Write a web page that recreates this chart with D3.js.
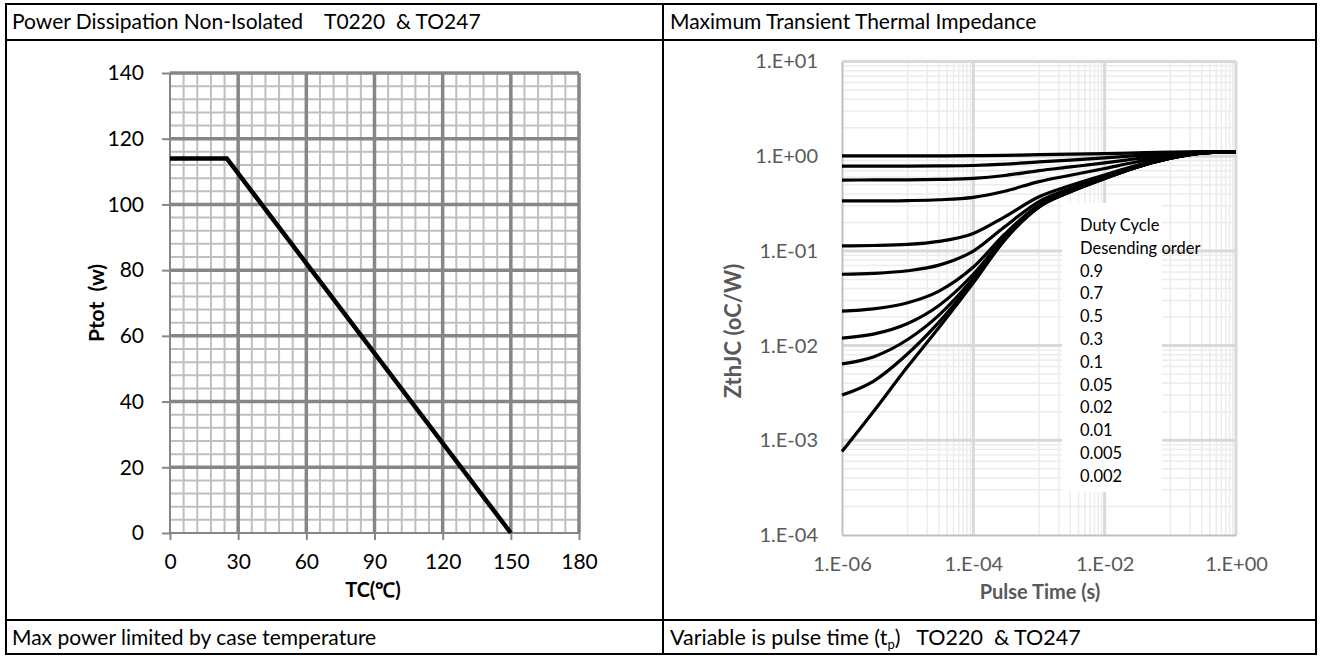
<!DOCTYPE html>
<html>
<head>
<meta charset="utf-8">
<script src="https://cdn.jsdelivr.net/npm/d3@7"></script>
<style>
  body { margin: 0; background: #fff; }
  svg { display: block; font-family: Lato, "Open Sans", sans-serif; }
</style>
</head>
<body>
<svg width="1320" height="656"></svg>
<script>
// ---- data: power derating (left) ----
var tempC = [0, 25, 150];
var powerW = [114, 114, 0];
var tempTicks = [0, 30, 60, 90, 120, 150, 180];
var powerTicks = [0, 20, 40, 60, 80, 100, 120, 140];

// ---- data: transient thermal impedance (right) ----
var pulseTime = [1e-6, 3e-6, 1e-5, 3e-5, 1e-4, 3e-4, 1e-3, 3e-3, 1e-2, 3e-2, 1e-1, 3e-1, 1];
var zthD0_9   = [1.008, 1.008, 1.009, 1.010, 1.013, 1.021, 1.037, 1.050, 1.066, 1.084, 1.103, 1.116, 1.12];
var zthD0_7   = [0.784, 0.785, 0.786, 0.789, 0.798, 0.823, 0.871, 0.910, 0.958, 1.012, 1.069, 1.108, 1.12];
var zthD0_5   = [0.560, 0.561, 0.563, 0.568, 0.583, 0.625, 0.705, 0.770, 0.850, 0.940, 1.035, 1.100, 1.12];
var zthD0_3   = [0.337, 0.337, 0.340, 0.347, 0.368, 0.427, 0.539, 0.630, 0.742, 0.868, 1.001, 1.092, 1.12];
var zthD0_1   = [0.113, 0.114, 0.117, 0.126, 0.153, 0.229, 0.373, 0.490, 0.634, 0.796, 0.967, 1.084, 1.12];
var zthD0_05  = [0.0567, 0.0579, 0.0617, 0.0707, 0.0997, 0.180, 0.332, 0.455, 0.607, 0.778, 0.959, 1.082, 1.12];
var zthD0_02  = [0.0231, 0.0244, 0.0283, 0.0376, 0.0675, 0.150, 0.307, 0.434, 0.591, 0.767, 0.953, 1.081, 1.12];
var zthD0_01  = [0.0120, 0.0132, 0.0171, 0.0265, 0.0567, 0.140, 0.298, 0.427, 0.585, 0.764, 0.952, 1.080, 1.12];
var zthD0_005 = [0.0064, 0.0076, 0.0116, 0.0210, 0.0514, 0.135, 0.294, 0.424, 0.583, 0.762, 0.951, 1.080, 1.12];
var zthD0_002 = [0.0030, 0.0042, 0.0082, 0.0177, 0.0481, 0.132, 0.292, 0.421, 0.581, 0.761, 0.950, 1.080, 1.12];
var zthSingle = [0.00076, 0.0020, 0.0060, 0.0155, 0.046, 0.13, 0.29, 0.42, 0.58, 0.76, 0.95, 1.08, 1.12];
var zthCurves = [zthD0_9, zthD0_7, zthD0_5, zthD0_3, zthD0_1, zthD0_05, zthD0_02, zthD0_01, zthD0_005, zthD0_002, zthSingle];
var legendLines = ["Duty Cycle", "Desending order", "0.9", "0.7", "0.5", "0.3", "0.1", "0.05", "0.02", "0.01", "0.005", "0.002"];
var timeTicks = [1e-6, 1e-4, 1e-2, 1];
var zthTicks = [1e-4, 1e-3, 1e-2, 1e-1, 1, 10];

var svg = d3.select("svg");

// exponent style labels like Excel "1.E-04"
function sciLabel(v) {
  var e = Math.round(Math.log10(v));
  return "1.E" + (e < 0 ? "-" : "+") + String(Math.abs(e)).padStart(2, "0");
}

//////////// TABLE FRAME ////////////
var frame = svg.append("g").attr("stroke", "#000").attr("stroke-width", 2);
frame.append("rect").attr("x", 6).attr("y", 4).attr("width", 1310).attr("height", 650).attr("fill", "none");
frame.append("line").attr("x1", 6).attr("x2", 1316).attr("y1", 40).attr("y2", 40);
frame.append("line").attr("x1", 6).attr("x2", 1316).attr("y1", 620).attr("y2", 620);
frame.append("line").attr("x1", 663).attr("x2", 663).attr("y1", 4).attr("y2", 654);

var cellText = [
  { x: 12, y: 29, t: "Power Dissipation Non-Isolated\u00a0\u00a0\u00a0\u00a0T0220\u00a0\u00a0& TO247" },
  { x: 670, y: 29, t: "Maximum Transient Thermal Impedance" },
  { x: 12, y: 645, t: "Max power limited by case temperature" }
];
svg.selectAll(".cell").data(cellText).enter().append("text")
  .attr("class", "cell")
  .attr("x", function(d) { return d.x; })
  .attr("y", function(d) { return d.y; })
  .attr("font-size", "21px")
  .attr("fill", "#000")
  .text(function(d) { return d.t; });

var foot = svg.append("text").attr("x", 670).attr("y", 645).attr("font-size", "21.5px").attr("fill", "#000");
foot.append("tspan").text("Variable is pulse time (t");
foot.append("tspan").attr("font-size", "13px").attr("dy", 4).text("p");
foot.append("tspan").attr("dy", -4).text(")\u00a0\u00a0\u00a0TO220\u00a0\u00a0& TO247");

//////////// LEFT CHART ////////////
var xT = d3.scaleLinear().domain([0, 180]).range([170, 579]);
var yP = d3.scaleLinear().domain([0, 140]).range([533, 73]);

var lg = svg.append("g");
// minor grid
lg.append("g").selectAll("line").data(d3.range(0, 181, 6)).enter().append("line")
  .attr("x1", function(d) { return xT(d); }).attr("x2", function(d) { return xT(d); })
  .attr("y1", yP(0)).attr("y2", yP(140))
  .attr("stroke", "#bfbfbf").attr("stroke-width", 2);
lg.append("g").selectAll("line").data(d3.range(0, 141, 4)).enter().append("line")
  .attr("y1", function(d) { return yP(d); }).attr("y2", function(d) { return yP(d); })
  .attr("x1", xT(0)).attr("x2", xT(180))
  .attr("stroke", "#bfbfbf").attr("stroke-width", 2);
// major grid
lg.append("g").selectAll("line").data(tempTicks).enter().append("line")
  .attr("x1", function(d) { return xT(d); }).attr("x2", function(d) { return xT(d); })
  .attr("y1", yP(0)).attr("y2", yP(140))
  .attr("stroke", "#868686").attr("stroke-width", function(d) { return d === 0 ? 2 : 3.5; });
lg.append("g").selectAll("line").data(powerTicks).enter().append("line")
  .attr("y1", function(d) { return yP(d); }).attr("y2", function(d) { return yP(d); })
  .attr("x1", xT(0)).attr("x2", xT(180))
  .attr("stroke", "#868686").attr("stroke-width", function(d) { return d === 0 ? 2 : 3.5; });

// axes
var axL = lg.append("g").attr("transform", "translate(" + xT(0) + ",0)")
  .call(d3.axisLeft(yP).tickValues(powerTicks).tickSize(8).tickPadding(18));
var axB = lg.append("g").attr("transform", "translate(0," + yP(0) + ")")
  .call(d3.axisBottom(xT).tickValues(tempTicks).tickSize(7).tickPadding(14));
[axL, axB].forEach(function(a) {
  a.select(".domain").remove();
  a.selectAll(".tick line").attr("stroke", "#868686").attr("stroke-width", 2);
  a.selectAll(".tick text").attr("fill", "#000").attr("font-size", "21px").attr("font-family", "Lato, sans-serif");
});

// derating line
var powerLine = d3.line()
  .x(function(d, i) { return xT(tempC[i]); })
  .y(function(d) { return yP(d); });
lg.append("path").datum(powerW)
  .attr("d", powerLine)
  .attr("fill", "none").attr("stroke", "#000").attr("stroke-width", 4.5);

lg.append("text").attr("transform", "translate(104,303) rotate(-90)")
  .attr("text-anchor", "middle").attr("font-size", "21px").attr("font-weight", "bold")
  .text("Ptot\u00a0\u00a0(w)");
lg.append("text").attr("x", 373).attr("y", 597)
  .attr("text-anchor", "middle").attr("font-size", "20px").attr("font-weight", "bold")
  .text("TC(\u2103)");

//////////// RIGHT CHART ////////////
var xt = d3.scaleLog().domain([1e-6, 1]).range([842, 1236]);
var yz = d3.scaleLog().domain([1e-4, 10]).range([535, 61.5]);

var rg = svg.append("g");
// minor grid x: k * 10^-5, 10^-3, 10^-1
var xMinor = [];
[-5, -3, -1].forEach(function(e) {
  for (var k = 1; k <= 9; k++) xMinor.push(k * Math.pow(10, e));
});
var yMinor = [];
[-4, -3, -2, -1, 0].forEach(function(e) {
  for (var k = 2; k <= 9; k++) yMinor.push(k * Math.pow(10, e));
});
rg.append("g").selectAll("line").data(xMinor).enter().append("line")
  .attr("x1", function(d) { return xt(d); }).attr("x2", function(d) { return xt(d); })
  .attr("y1", yz(1e-4)).attr("y2", yz(10))
  .attr("stroke", "#ececec").attr("stroke-width", 1.5);
rg.append("g").selectAll("line").data(yMinor).enter().append("line")
  .attr("y1", function(d) { return yz(d); }).attr("y2", function(d) { return yz(d); })
  .attr("x1", xt(1e-6)).attr("x2", xt(1))
  .attr("stroke", "#ececec").attr("stroke-width", 1.5);
rg.append("g").selectAll("line").data(timeTicks.slice(1)).enter().append("line")
  .attr("x1", function(d) { return xt(d); }).attr("x2", function(d) { return xt(d); })
  .attr("y1", yz(1e-4)).attr("y2", yz(10))
  .attr("stroke", "#d9d9d9").attr("stroke-width", 3);
rg.append("g").selectAll("line").data(zthTicks.slice(1)).enter().append("line")
  .attr("y1", function(d) { return yz(d); }).attr("y2", function(d) { return yz(d); })
  .attr("x1", xt(1e-6)).attr("x2", xt(1))
  .attr("stroke", "#d9d9d9").attr("stroke-width", 3);

// axes (lines only, no tick marks)
var axZ = rg.append("g").attr("transform", "translate(" + xt(1e-6) + ",0)")
  .call(d3.axisLeft(yz).tickValues(zthTicks).tickFormat(sciLabel).tickSize(0).tickPadding(24));
var axTm = rg.append("g").attr("transform", "translate(0," + yz(1e-4) + ")")
  .call(d3.axisBottom(xt).tickValues(timeTicks).tickFormat(sciLabel).tickSize(0).tickPadding(22));
[axZ, axTm].forEach(function(a) {
  a.select(".domain").attr("stroke", "#bfbfbf").attr("stroke-width", 2);
  a.selectAll(".tick text").attr("fill", "#595959").attr("font-size", "20px").attr("font-family", "Lato, sans-serif");
});

// legend box (drawn under curves)
var legend = rg.append("g").attr("class", "legend");
legend.append("rect").attr("x", 1062).attr("y", 203).attr("width", 100).attr("height", 289).attr("fill", "#fff");

// curves
var zLine = d3.line()
  .x(function(d, i) { return xt(pulseTime[i]); })
  .y(function(d) { return yz(d); })
  .curve(d3.curveMonotoneX);
rg.append("g").selectAll("path").data(zthCurves).enter().append("path")
  .attr("d", zLine)
  .attr("fill", "none").attr("stroke", "#000").attr("stroke-width", 3.2);

legend.selectAll("text").data(legendLines).enter().append("text")
  .attr("x", 1080)
  .attr("y", function(d, i) { return 231 + i * 22.8; })
  .attr("font-size", "16.5px").attr("fill", "#000")
  .text(function(d) { return d; });

rg.append("text").attr("transform", "translate(741,331) rotate(-90)")
  .attr("text-anchor", "middle").attr("font-size", "22px").attr("font-weight", "bold").attr("fill", "#595959")
  .text("ZthJC (oC/W)");
rg.append("text").attr("x", 1040).attr("y", 599)
  .attr("text-anchor", "middle").attr("font-size", "20px").attr("font-weight", "bold").attr("fill", "#595959")
  .text("Pulse Time (s)");
</script>
</body>
</html>
